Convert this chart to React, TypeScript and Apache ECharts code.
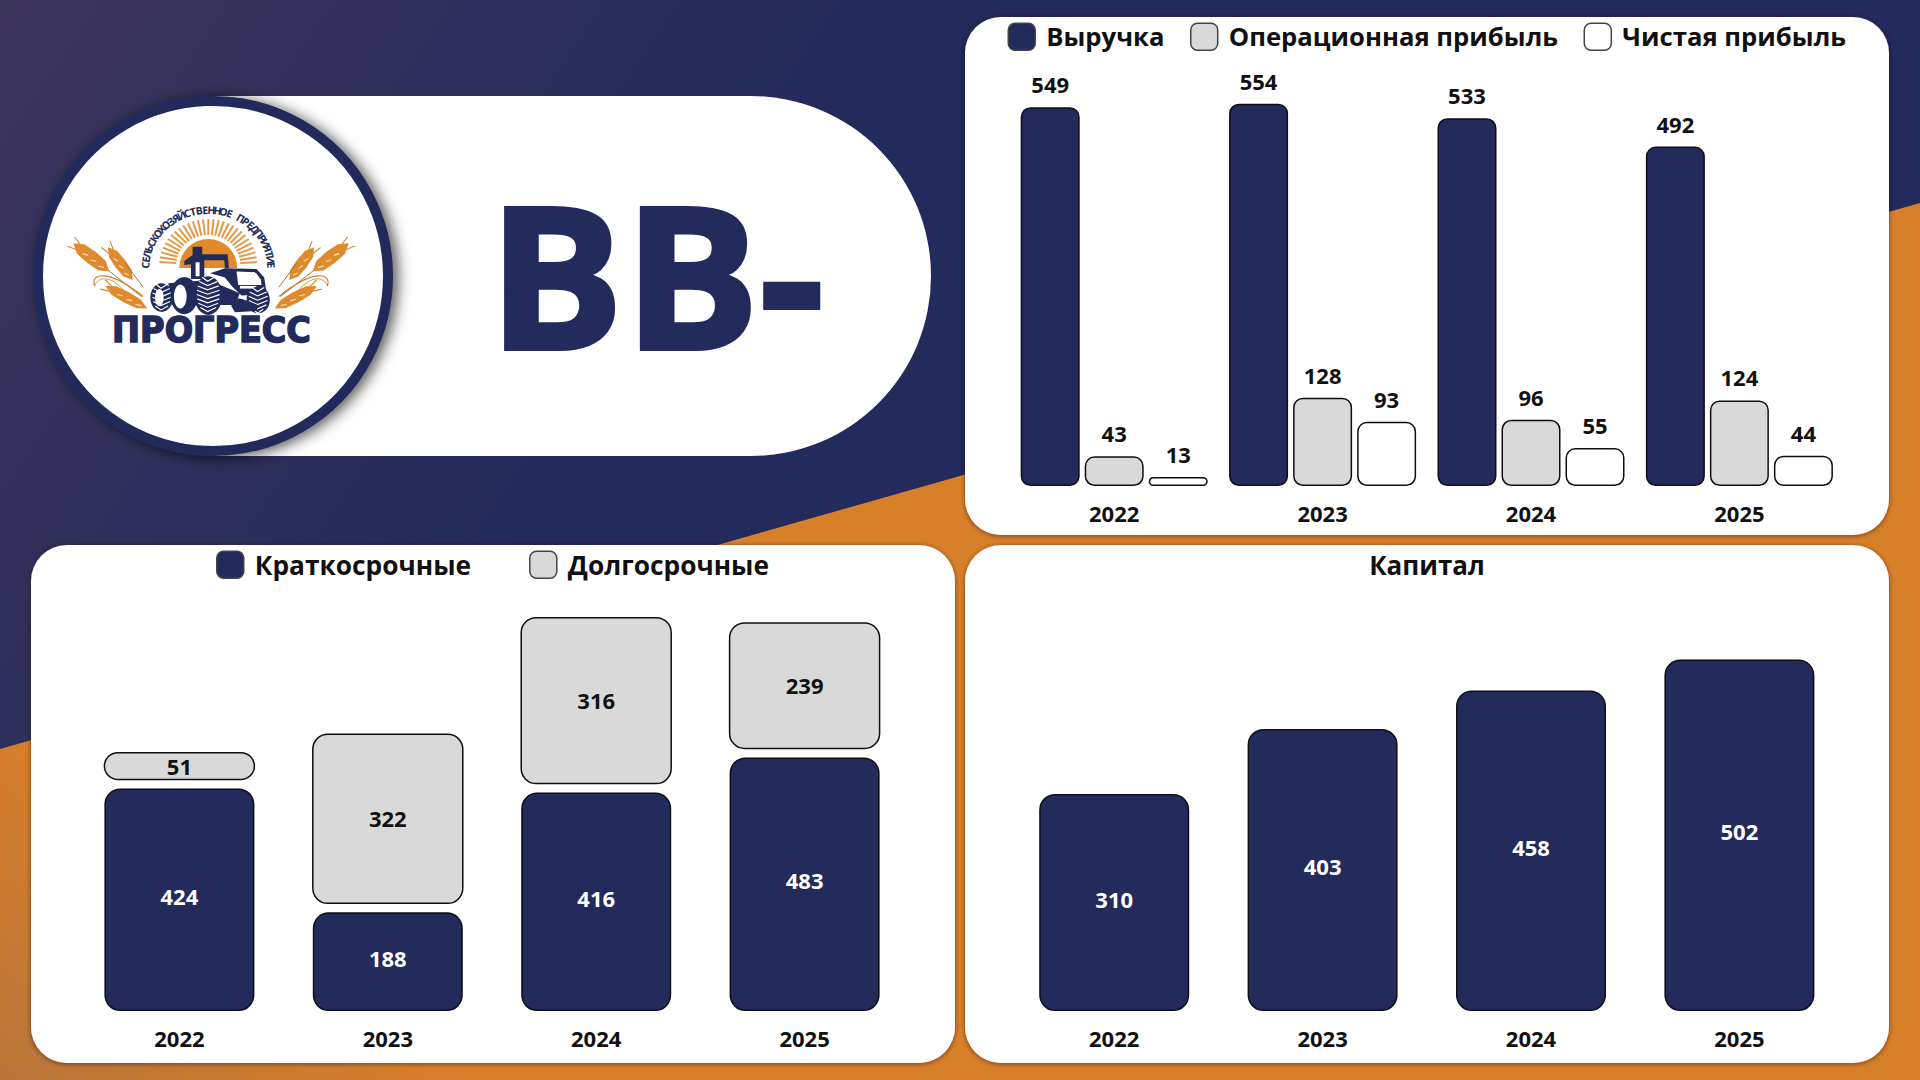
import React, { useEffect, useRef } from "react";
import * as echarts from "echarts";

const years = ["2022", "2023", "2024", "2025"];
const revenue = [549, 554, 533, 492];
const operatingProfit = [43, 128, 96, 124];
const netProfit = [13, 93, 55, 44];
const shortTerm = [424, 188, 416, 483];
const longTerm = [51, 322, 316, 239];
const equity = [310, 403, 458, 502];
const rating = "BB-";
const logoName = "ПРОГРЕСС";
const logoArc = "СЕЛЬСКОХОЗЯЙСТВЕННОЕ ПРЕДПРИЯТИЕ";

const NAVY = "#232A5C";
const GRAY = "#D9D9D9";
const ORANGE = "#D87F2A";
const WHEAT = "#DE8A2E";
const INK = "#0E0E14";
const FONT = "'Open Sans', 'Noto Sans', sans-serif";
const STACK_GAP_PX = 9;

const grad = (x1: number, y1: number, x2: number, y2: number, a: string, b: string) =>
  new echarts.graphic.LinearGradient(x1, y1, x2, y2, [{ offset: 0, color: a }, { offset: 1, color: b }], true);

function panel(x: number, y: number, width: number, height: number) {
  return {
    type: "rect",
    shape: { x, y, width, height, r: 36 },
    style: { fill: "#fff", shadowBlur: 5, shadowColor: "rgba(40,25,10,0.55)", shadowOffsetY: 1 },
  };
}

function wheel(cx: number, cy: number, rx: number, ry: number, chevrons: boolean) {
  const out: any[] = [{ type: "ellipse", shape: { cx, cy, rx, ry }, style: { fill: NAVY } }];
  if (chevrons) {
    for (let dy = -ry + 9; dy < ry - 4; dy += 13) {
      const w = rx * Math.sqrt(Math.max(0, 1 - (dy / ry) ** 2)) * 0.82;
      out.push({
        type: "polyline",
        shape: { points: [[cx - w, cy + dy - 6], [cx - 2, cy + dy + 6], [cx + w, cy + dy - 6]] },
        style: { stroke: "#fff", lineWidth: 3.5, fill: "none" },
      });
    }
  }
  return out;
}

function head(ax: number, ay: number, bx: number, by: number, width: number) {
  const dx = bx - ax, dy = by - ay;
  const len = Math.hypot(dx, dy);
  const ux = dx / len, uy = dy / len, nx = -uy, ny = ux;
  const pt = (t: number, s: number) => [ax + dx * t + nx * s * width, ay + dy * t + ny * s * width];
  const out: any[] = [{
    type: "polygon",
    shape: { points: [pt(0, 0), pt(0.2, 0.85), pt(0.5, 1), pt(0.8, 0.85), pt(1, 0), pt(0.8, -0.85), pt(0.5, -1), pt(0.2, -0.85)] },
    style: { fill: WHEAT },
  }];
  [0.3, 0.52, 0.74].forEach((t) => {
    const [sx, sy] = pt(t, 0.35);
    const [ex, ey] = pt(t + 0.12, 0.05);
    out.push({ type: "line", shape: { x1: sx, y1: sy, x2: ex, y2: ey }, style: { stroke: "#F8DDB6", lineWidth: 3.5 } });
  });
  [-1, 1].forEach((s) => {
    const [sx, sy] = pt(0.12, s * 0.5);
    out.push({ type: "line", shape: { x1: sx, y1: sy, x2: sx - ux * 26 + nx * s * 7, y2: sy - uy * 26 + ny * s * 7 }, style: { stroke: WHEAT, lineWidth: 3.5 } });
  });
  return out;
}

function wheatSheaf() {
  const stem = (x1: number, y1: number, x2: number, y2: number) => ({
    type: "line", shape: { x1, y1, x2, y2 }, style: { stroke: "#B5702C", lineWidth: 3 },
  });
  return [
    ...head(40, 40, 148, 124, 21),
    ...head(144, 52, 218, 150, 18),
    ...head(136, 168, 262, 236, 17),
    stem(146, 122, 245, 200),
    stem(196, 100, 250, 172),
    {
      type: "bezierCurve",
      shape: { x1: 104, y1: 168, x2: 250, y2: 200, cpx1: 90, cpy1: 125, cpx2: 150, cpy2: 120 },
      style: { stroke: "#CF7F2E", lineWidth: 3.5, fill: "none" },
    },
    {
      type: "bezierCurve",
      shape: { x1: 104, y1: 168, x2: 190, y2: 180, cpx1: 115, cpy1: 140, cpx2: 150, cpy2: 135 },
      style: { stroke: "#CF7F2E", lineWidth: 2.5, fill: "none" },
    },
  ];
}

function logoGraphic() {
  const cx = 208.3, cy = 265;
  const els: any[] = [];
  for (let i = 0; i < 29; i++) {
    const a = Math.PI * (0.02 + (0.96 * i) / 28);
    els.push({
      type: "line",
      shape: {
        x1: cx + 32 * Math.cos(a), y1: cy - 30 * Math.sin(a),
        x2: cx + 49 * Math.cos(a), y2: cy - 46 * Math.sin(a),
      },
      style: { stroke: "#E39A45", lineWidth: 2 },
    });
  }
  els.push({
    type: "sector",
    shape: { cx, cy: cy + 3, r: 29, startAngle: Math.PI, endAngle: 2 * Math.PI },
    style: { fill: "#E28A2B" },
  });
  const chars = Array.from(logoArc);
  chars.forEach((ch, i) => {
    const th = Math.PI * (0.985 - (0.97 * i) / (chars.length - 1));
    els.push({
      type: "text",
      x: cx + 63 * Math.cos(th),
      y: cy + 3 - 58 * Math.sin(th),
      rotation: th - Math.PI / 2,
      style: { text: ch, align: "center", verticalAlign: "middle", fill: NAVY, font: `700 10.5px ${FONT}` },
    });
  });
  const tractor: any[] = [
    { type: "polygon", shape: { points: [[203, 125], [232, 125], [232, 148], [308, 148], [312, 190], [300, 190], [298, 166], [238, 166], [238, 222], [198, 222], [198, 178], [178, 180], [178, 168], [203, 150]] }, style: { fill: NAVY } },
    { type: "rect", shape: { x: 212, y: 172, width: 12, height: 42 }, style: { fill: "#fff" } },
    { type: "polygon", shape: { points: [[256, 205], [300, 190], [395, 192], [418, 218], [426, 268], [350, 272], [322, 245], [300, 218]] }, style: { fill: NAVY } },
    { type: "polygon", shape: { points: [[335, 200], [392, 202], [408, 224], [410, 240], [340, 240]] }, style: { fill: "#fff" } },
    { type: "rect", shape: { x: 345, y: 243, width: 50, height: 8 }, style: { fill: "#fff" } },
    { type: "polygon", shape: { points: [[130, 235], [250, 225], [345, 265], [330, 300], [140, 300]] }, style: { fill: NAVY } },
    ...wheel(110, 278, 34, 43, true),
    { type: "ellipse", shape: { cx: 103, cy: 278, rx: 13, ry: 26 }, style: { fill: "#fff" } },
    ...wheel(178, 272, 41, 56, false),
    { type: "ellipse", shape: { cx: 166, cy: 275, rx: 19, ry: 36 }, style: { fill: "#fff" } },
    ...wheel(250, 272, 42, 58, true),
    ...wheel(400, 285, 35, 40, true),
    { type: "polygon", shape: { points: [[318, 278], [352, 282], [398, 300], [396, 318], [330, 322], [320, 305]] }, style: { fill: NAVY } },
  ];
  return [
    { type: "group", x: 60, y: 230, scaleX: 1 / 3, scaleY: 1 / 3, children: wheatSheaf() },
    { type: "group", x: 362, y: 230, scaleX: -1 / 3, scaleY: 1 / 3, children: wheatSheaf() },
    ...els,
    { type: "group", x: 125, y: 205, scaleX: 1 / 3, scaleY: 1 / 3, children: tractor },
    {
      type: "text",
      x: 211.5,
      y: 330,
      scaleX: 0.93,
      style: {
        text: logoName, align: "center", verticalAlign: "middle", fill: NAVY,
        stroke: NAVY, lineWidth: 1.6, font: `700 36px 'DejaVu Sans', sans-serif`,
      },
    },
  ];
}

const barStyle = (fill: string, r: number) => ({ color: fill, borderColor: INK, borderWidth: 1.5, borderRadius: r });
const topLabel = {
  show: true, position: "top", distance: 12, color: "#111", fontFamily: FONT, fontWeight: 700, fontSize: 22,
};
const innerLabel = {
  show: true, position: "inside", offset: [0, -4], color: "#fff", fontFamily: FONT, fontWeight: 700, fontSize: 22,
};

function legendItem(name: string, fill: string) {
  return { name, icon: "roundRect", itemStyle: { color: fill, borderColor: "#444", borderWidth: 1.5 } };
}
const legendBase = {
  orient: "horizontal",
  itemWidth: 27,
  itemHeight: 27,
  selectedMode: false,
};
const legendText = (fontSize: number) => ({
  fontFamily: FONT, fontWeight: 700, fontSize, color: "#111", padding: [0, 0, 0, 6],
});

function xAxis(gridIndex: number) {
  return {
    type: "category", gridIndex, data: years,
    axisLine: { show: false }, axisTick: { show: false },
    axisLabel: { color: "#111", fontFamily: FONT, fontWeight: 700, fontSize: 22, margin: 16 },
  };
}
const yAxis = (gridIndex: number, max: number) => ({
  type: "value", gridIndex, min: 0, max, show: false, splitLine: { show: false },
});

export default function App() {
  const ref = useRef<HTMLDivElement>(null);
  useEffect(() => {
    const chart = echarts.init(ref.current!, null, { renderer: "svg" });
    chart.setOption({
      animation: false,
      backgroundColor: NAVY,
      title: {
        text: "Капитал", left: 1422, top: 547, textAlign: "center",
        textStyle: { fontFamily: FONT, fontWeight: 700, fontSize: 26, color: "#111" },
      },
      legend: [
        {
          ...legendBase, left: 1002.5, top: 17.5, itemGap: 25.5, textStyle: legendText(25.7),
          data: [legendItem("Выручка", NAVY), legendItem("Операционная прибыль", GRAY), legendItem("Чистая прибыль", "#fff")],
        },
        {
          ...legendBase, left: 211, top: 545.5, itemGap: 58, textStyle: legendText(26.3),
          data: [legendItem("Краткосрочные", NAVY), legendItem("Долгосрочные", GRAY)],
        },
      ],
      graphic: [
        { type: "rect", shape: { x: 0, y: 0, width: 1920, height: 1080 }, style: { fill: grad(0, 0, 620, 420, "#3C3459", NAVY) } },
        { type: "polygon", shape: { points: [[0, 749], [1920, 203], [1920, 1080], [0, 1080]] }, style: { fill: grad(0, 1080, 180, 850, "#B87539", ORANGE) } },
        panel(965, 17, 924, 518),
        panel(31, 545, 924, 518),
        panel(965, 545, 924, 518),
        { type: "rect", shape: { x: 213, y: 96, width: 718, height: 360, r: [0, 180, 180, 0] }, style: { fill: "#fff" } },
        {
          type: "circle", shape: { cx: 213, cy: 276, r: 175 },
          style: { fill: "#fff", stroke: NAVY, lineWidth: 10, shadowBlur: 14, shadowColor: "rgba(0,0,0,0.65)", shadowOffsetX: 5, shadowOffsetY: 2 },
        },
        ...logoGraphic(),
        {
          type: "text", x: 488, y: 272, scaleX: 1.02,
          style: { text: rating, fill: NAVY, stroke: NAVY, lineWidth: 4, font: `700 198px ${FONT}`, verticalAlign: "middle", align: "left" },
        },
      ],
      grid: [
        { left: 1010, width: 833.6, top: 72, height: 414 },
        { left: 75.2, width: 833.6, top: 591, height: 420 },
        { left: 1010, width: 833.6, top: 591, height: 420 },
      ],
      xAxis: [xAxis(0), xAxis(1), xAxis(2)],
      yAxis: [yAxis(0, 600), yAxis(1, 800), yAxis(2, 600)],
      series: [
        { name: "Выручка", type: "bar", xAxisIndex: 0, yAxisIndex: 0, barWidth: 59, barGap: "8.5%", data: revenue, itemStyle: barStyle(NAVY, 9), label: topLabel },
        { name: "Операционная прибыль", type: "bar", xAxisIndex: 0, yAxisIndex: 0, barWidth: 59, barGap: "8.5%", data: operatingProfit, itemStyle: barStyle(GRAY, 9), label: topLabel },
        { name: "Чистая прибыль", type: "bar", xAxisIndex: 0, yAxisIndex: 0, barWidth: 59, barGap: "8.5%", data: netProfit, itemStyle: barStyle("#fff", 9), label: topLabel },
        { name: "Краткосрочные", type: "bar", xAxisIndex: 1, yAxisIndex: 1, barWidth: 150, data: shortTerm, itemStyle: barStyle(NAVY, 15), label: innerLabel },
        {
          name: "Долгосрочные", type: "custom", xAxisIndex: 1, yAxisIndex: 1,
          itemStyle: { color: GRAY },
          encode: { x: 0, y: 2 },
          data: longTerm.map((v, i) => [i, shortTerm[i], shortTerm[i] + v, v]),
          renderItem: (_p: any, api: any) => {
            const i = api.value(0);
            const lo = api.coord([i, api.value(1)]);
            const hi = api.coord([i, api.value(2)]);
            const w = 150;
            return {
              type: "rect",
              shape: { x: lo[0] - w / 2, y: hi[1] - STACK_GAP_PX, width: w, height: lo[1] - hi[1], r: 15 },
              style: { fill: GRAY, stroke: INK, lineWidth: 1.5 },
              textContent: { type: "text", style: { text: String(api.value(3)), fill: "#111", font: `700 22px ${FONT}` } },
              textConfig: { position: "inside", offset: [0, -0.5] },
            };
          },
        },
        { name: "Капитал", type: "bar", xAxisIndex: 2, yAxisIndex: 2, barWidth: 150, data: equity, itemStyle: barStyle(NAVY, 15), label: innerLabel },
      ],
    });
    return () => chart.dispose();
  }, []);
  return <div ref={ref} style={{ position: "absolute", left: 0, top: 0, width: 1920, height: 1080 }} />;
}
